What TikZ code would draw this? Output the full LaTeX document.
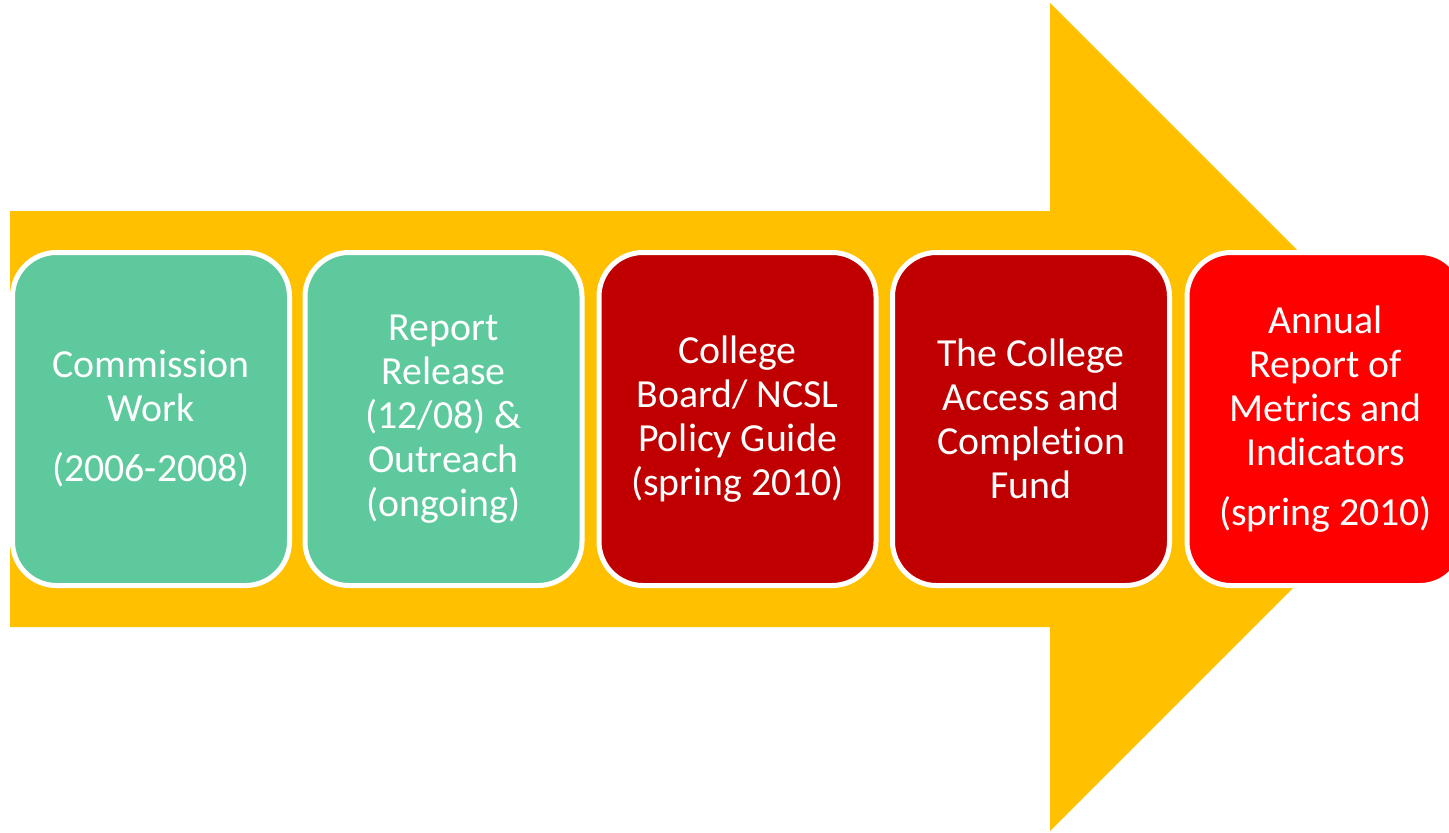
\documentclass[tikz,border=0pt]{standalone}
\usepackage{fontspec}
\setmainfont{Carlito}[Ligatures=NoCommon]
\definecolor{arrowgold}{HTML}{FFC000}
\definecolor{stepgreen}{HTML}{5FC99E}
\definecolor{stepdark}{HTML}{C00000}
\definecolor{stepred}{HTML}{FF0000}
\begin{document}
\begin{tikzpicture}[x=0.5pt,y=-0.5pt,
  stagebox/.style={draw=white, line width=2.5pt, rounded corners=22pt,
    minimum width=138.5pt, minimum height=166.5pt, inner sep=0pt,
    align=center, text=white, font=\fontsize{19.9}{22}\selectfont}]
\useasboundingbox (0,0) rectangle (1449,832);
\clip (0,0) rectangle (1449,832);

% timeline arrow
\fill[arrowgold] (10,211) -- (1050,211) -- (1050,3) -- (1464,417)
  -- (1050,831) -- (1050,627) -- (10,627) -- cycle;

% stages
\node[stagebox, fill=stepgreen] (b1) at (151,419)
  {Commission\\Work\\[8pt](2006-2008)};
\node[stagebox, fill=stepgreen] (b2) at (443.5,419)
  {Report\\Release\\(12/08) \&\\Outreach\\(ongoing)};
\node[stagebox, fill=stepdark] (b3) at (737.5,419)
  {College\\Board/ NCSL\\Policy Guide\\(spring 2010)};
\node[stagebox, fill=stepdark] (b4) at (1031,419)
  {The College\\Access and\\Completion\\Fund};
\node[stagebox, fill=stepred] (b5) at (1325.5,419)
  {Annual\\Report of\\Metrics and\\Indicators\\[8pt](spring 2010)};
\end{tikzpicture}
\end{document}
